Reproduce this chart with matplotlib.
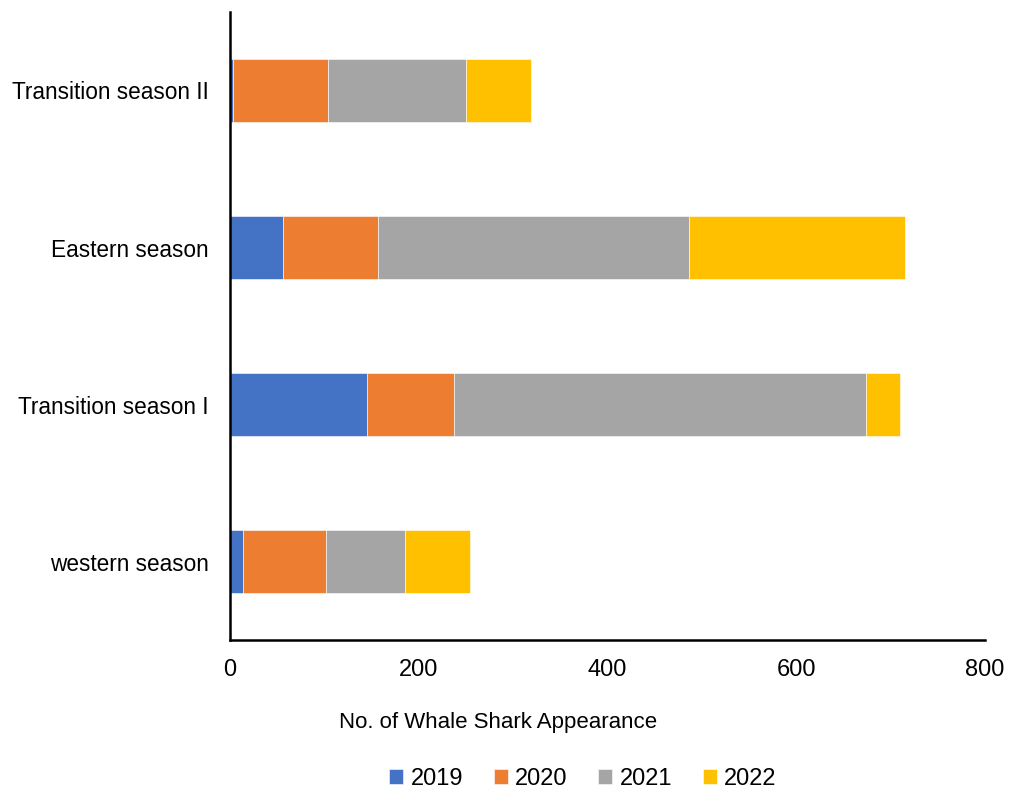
import numpy as np
import matplotlib
matplotlib.use("Agg")
import matplotlib.pyplot as plt

seasons = ["western season", "Transition season I", "Eastern season", "Transition season II"]
years = ["2019", "2020", "2021", "2022"]

# appearances per season, one list per year
y2019 = [14, 145, 56, 3]
y2020 = [88, 92, 101, 101]
y2021 = [84, 437, 329, 146]
y2022 = [68, 36, 230, 69]

colors = ["#4472C4", "#ED7D31", "#A5A5A5", "#FFC000"]

plt.rcParams["font.family"] = ["Liberation Sans", "DejaVu Sans"]

fig = plt.figure(figsize=(10.1, 7.89), dpi=100)
ax = fig.add_axes([0.2277, 0.1888, 0.7473, 0.796])

pos = np.arange(len(seasons))
left = np.zeros(len(seasons))
for yr, vals, col in zip(years, [y2019, y2020, y2021, y2022], colors):
    ax.barh(pos, vals, height=0.4, left=left, color=col, label=yr,
            edgecolor="white", linewidth=0.4)
    left = left + np.array(vals)

ax.set_xlim(0, 800)
ax.set_ylim(-0.5, 3.5)
ax.set_xticks([0, 200, 400, 600, 800])
ax.set_yticks(pos)
ax.set_yticklabels(seasons, fontsize=16.3)
ax.tick_params(axis="x", labelsize=17, length=0, pad=14)
ax.tick_params(axis="y", length=0, pad=15.5)

for s in ["top", "right"]:
    ax.spines[s].set_visible(False)
for s in ["left", "bottom"]:
    ax.spines[s].set_linewidth(1.8)
    ax.spines[s].set_color("black")

ax.set_xlabel("No. of Whale Shark Appearance", fontsize=16)
ax.xaxis.set_label_coords(0.355, -0.115)

ax.legend(loc="center", bbox_to_anchor=(0.4675, -0.221), ncol=4, frameon=False,
          fontsize=17, handlelength=0.6, handleheight=0.6, handletextpad=0.3,
          columnspacing=1.3)

fig.savefig("out.png", dpi=100)
